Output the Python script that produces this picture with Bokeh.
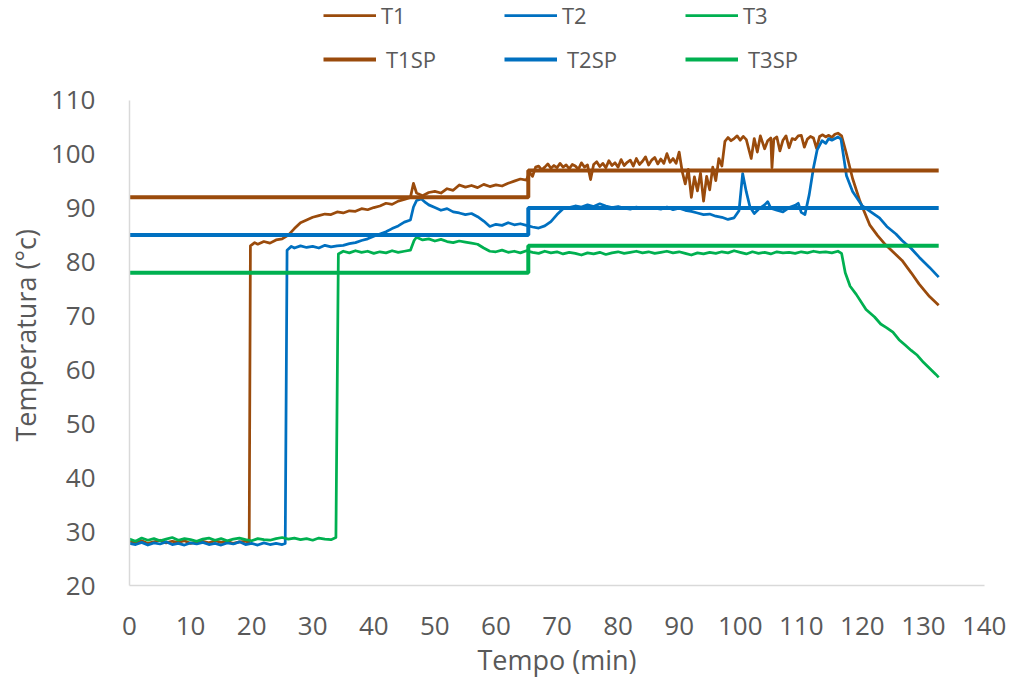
from bokeh.plotting import figure
from bokeh.models import Range1d, FixedTicker, Legend, LegendItem, Title
from bokeh.embed import file_html
from bokeh.resources import INLINE

# ---------------- data ----------------
t1_time = [0, 1, 2, 3, 4, 5, 6, 7, 8, 9, 10, 11, 12, 13, 14, 15, 16, 17, 18, 19, 19.6,
           19.8, 20.5, 21, 22, 23, 24, 25, 26, 27, 28, 29, 30, 31, 32, 33, 34, 35, 36, 37, 38, 39,
           40, 41, 42, 43, 44, 45, 46, 46.5, 47, 48, 49, 50, 51, 52, 53, 54, 55, 56, 57, 58, 59,
           60, 61, 62, 63, 64, 65, 65.5, 66, 66.5, 67, 67.5, 68, 68.5, 69, 69.5, 70, 70.5, 71, 71.5,
           72, 72.5, 73, 73.5, 74, 74.5, 75, 75.5, 76, 76.5, 77, 77.5, 78, 78.5, 79, 79.5, 80, 80.5,
           81, 81.5, 82, 82.5, 83, 83.5, 84, 84.5, 85, 85.5, 86, 86.5, 87, 87.5, 88, 88.5, 89, 89.5,
           90, 90.5, 91, 91.5, 92, 92.5, 93, 93.5, 94, 94.5, 95, 95.5, 96, 96.5, 97, 97.5, 98, 98.5,
           99, 99.5, 100, 100.5, 101, 101.8, 102.3, 102.8, 103.3, 104, 104.5, 105, 105.2, 105.5, 106,
           106.5, 107, 107.5, 108, 108.5, 109, 109.5, 110, 110.5, 111, 111.5, 112, 112.5, 113, 113.5,
           114, 114.5, 115, 115.5, 116, 116.6, 117.3, 118.4, 119.6, 121.2, 122.5, 123.8, 125, 126.5,
           128, 129.3, 131, 132.5]
t1_temp = [28.2, 27.9, 28.3, 27.8, 28.1, 28.4, 27.9, 28.2, 28.0, 28.3, 27.8, 28.1, 28.2, 27.9, 28.3, 28.0, 28.2, 27.8, 28.1, 28.2, 28.0,
           83.0, 83.6, 83.3, 83.8, 83.5, 84.1, 84.3, 85.0, 86.2, 87.3, 87.8, 88.3, 88.6, 88.9, 88.8, 89.3, 89.1, 89.5, 89.4, 89.9, 89.7,
           90.1, 90.4, 90.9, 90.7, 91.3, 91.6, 92.0, 94.6, 92.8, 92.3, 92.9, 93.1, 92.8, 93.6, 93.3, 94.3, 93.9, 94.2, 93.8, 94.4, 94.0,
           94.3, 94.1, 94.6, 95.0, 95.4, 95.2, 96.6, 95.9, 97.6, 97.8, 97.1, 97.6, 98.2, 97.4, 97.9, 97.5, 98.3, 97.6, 98.0,
           97.3, 98.1, 97.8, 97.2, 98.4, 97.6, 98.0, 95.3, 98.1, 98.6, 97.7, 98.3, 97.5, 98.8, 97.9, 98.4, 97.6, 99.0,
           97.9, 98.5, 98.9, 97.8, 99.2, 98.1, 98.7, 99.5, 98.0, 98.9, 99.4, 98.2, 99.1, 98.3, 100.1, 98.5, 99.2, 98.3,
           100.4, 96.8, 94.5, 97.2, 92.0, 95.8, 93.2, 96.5, 91.3, 95.9, 93.4, 97.6, 95.1, 99.2, 97.8, 102.4, 103.1, 102.5,
           102.9, 103.4, 102.6, 103.3, 102.7, 99.2, 102.9, 100.4, 103.4, 101.0, 102.5, 103.0, 97.5, 102.8, 103.2,
           100.6, 102.6, 103.4, 101.2, 102.9, 102.7, 103.4, 103.5, 101.3, 102.8, 103.3, 103.0, 101.1, 103.3, 103.6,
           103.2, 103.5, 103.1, 103.7, 103.9, 103.4, 100.5, 95.5, 91.3, 86.9, 84.9, 83.2, 81.9, 80.3,
           78.0, 75.9, 73.6, 72.0]

t2_time = [0, 1, 2, 3, 4, 5, 6, 7, 8, 9, 10, 11, 12, 13, 14, 15, 16, 17, 18, 19, 20, 21, 22, 23, 24, 25, 25.5,
           25.8, 26.5, 27, 28, 29, 30, 31, 32, 33, 34, 35, 36, 37, 38, 39, 40, 41, 42, 43, 44, 45, 46, 46.5,
           47, 47.8, 48.5, 49, 50, 51, 52, 53, 54, 55, 56, 57, 58, 59, 60, 61, 62, 63, 64, 65, 66, 67, 68,
           69, 70, 71, 72, 73, 74, 75, 76, 77, 78, 79, 80, 81, 82, 83, 84, 85, 86, 87, 88, 89, 90, 91, 92,
           93, 94, 95, 96, 97, 98, 99, 99.8, 100.4, 101, 101.6, 102.3, 103, 104, 104.5, 105, 106, 107, 108,
           109, 109.5, 110, 110.6, 111.3, 112, 112.6, 113.4, 114, 114.5, 115, 116, 116.5, 116.9, 117.4,
           118.4, 120, 121.5, 122.8, 124, 125.5, 126.5, 128, 129.3, 131, 132.5]
t2_temp = [27.8, 27.6, 28.0, 27.5, 27.9, 27.7, 28.1, 27.6, 27.8, 27.5, 27.9, 27.7, 28.0, 27.6, 27.8, 27.5, 27.9, 27.7, 28.1, 27.6, 27.8, 27.5, 27.9, 27.6, 27.8, 27.6, 27.8,
           82.2, 82.9, 82.6, 83.0, 82.7, 82.9, 82.6, 83.1, 82.8, 83.0, 83.1, 83.4, 83.6, 84.0, 84.3, 84.8, 85.2, 85.6, 86.2, 86.7, 87.4, 87.8, 90.2,
           91.4, 91.7, 91.0, 90.6, 90.1, 89.6, 89.9, 89.3, 89.1, 88.8, 89.0, 88.4, 87.6, 86.6, 87.0, 86.8, 87.3, 86.9, 87.1, 86.8, 86.5, 86.3, 86.7,
           87.5, 88.8, 89.9, 90.1, 90.4, 90.2, 90.6, 90.3, 90.8, 90.4, 90.1, 90.3, 90.0, 89.8, 90.2, 89.9, 90.1, 90.0, 89.8, 90.2, 89.7, 90.0, 89.6, 89.4,
           89.1, 88.8, 88.9, 88.5, 88.3, 87.9, 88.2, 89.5, 96.4, 93.0, 90.2, 89.0, 89.8, 90.6, 91.2, 90.0, 89.6, 89.3, 90.1,
           90.5, 90.9, 89.2, 88.8, 92.5, 97.5, 100.8, 102.5, 102.0, 102.9, 102.6, 103.2, 102.8, 99.8, 96.0,
           93.1, 90.4, 89.2, 88.2, 86.6, 85.2, 84.0, 82.5, 80.9, 79.0, 77.2]

t3_time = [0, 1, 2, 3, 4, 5, 6, 7, 8, 9, 10, 11, 12, 13, 14, 15, 16, 17, 18, 19, 20, 21, 22, 23, 24, 25, 26, 27,
           28, 29, 30, 31, 32, 33, 33.8, 34.2, 35, 36, 37, 38, 39, 40, 41, 42, 43, 44, 45, 46, 46.6, 47, 48, 49,
           50, 51, 52, 53, 54, 55, 56, 57, 58, 59, 60, 61, 62, 63, 64, 65, 66, 67, 68, 69, 70, 71, 72, 73, 74,
           75, 76, 77, 78, 79, 80, 81, 82, 83, 84, 85, 86, 87, 88, 89, 90, 91, 92, 93, 94, 95, 96, 97, 98, 99,
           100, 101, 102, 103, 104, 105, 106, 107, 108, 109, 110, 111, 112, 113, 114, 115, 116, 116.6, 117.2,
           118, 119, 120.6, 122, 123, 124, 125, 126, 127, 128, 129, 130, 131, 132, 132.5]
t3_temp = [28.6, 28.2, 28.8, 28.4, 28.7, 28.3, 28.6, 28.9, 28.4, 28.7, 28.5, 28.2, 28.6, 28.8, 28.4, 28.7, 28.3, 28.6, 28.8, 28.5, 28.3, 28.7, 28.5, 28.4, 28.7, 28.9, 28.6, 28.8,
           28.5, 28.7, 28.4, 28.8, 28.6, 28.5, 28.9, 81.5, 82.0, 81.7, 82.1, 81.8, 82.0, 81.6, 81.9, 81.7, 82.1, 81.8, 82.0, 82.2, 84.0, 84.6, 84.1, 84.3,
           83.9, 84.2, 83.8, 83.6, 83.9, 83.7, 83.5, 83.3, 82.6, 82.0, 81.9, 82.2, 81.8, 82.0, 81.7, 82.1, 81.8, 81.6, 82.0, 81.7, 81.9, 81.5, 81.8, 81.6, 81.3,
           81.7, 81.5, 81.8, 81.4, 81.7, 81.9, 81.6, 81.8, 82.0, 81.7, 81.9, 81.6, 81.8, 82.0, 81.7, 81.9, 81.6, 81.3, 81.7, 81.5, 81.8, 81.6, 81.9, 81.7, 82.1,
           81.8, 81.5, 81.9, 81.6, 81.8, 81.5, 81.9, 81.7, 81.8, 81.6, 81.9, 81.7, 82.0, 81.8, 81.9, 81.7, 82.0, 81.6, 78.0,
           75.5, 74.0, 71.2, 69.8, 68.5, 67.8, 67.0, 65.6, 64.6, 63.6, 62.7, 61.4, 60.3, 59.2, 58.6]

sp_time = [0, 65.3, 132.5]
t1_sp = [92, 97, 97]
t2_sp = [85, 90, 90]
t3_sp = [78, 83, 83]

x_ticks = [0, 10, 20, 30, 40, 50, 60, 70, 80, 90, 100, 110, 120, 130, 140]
y_ticks = [20, 30, 40, 50, 60, 70, 80, 90, 100, 110]

BROWN = "#9A4B0C"
BLUE = "#0070C0"
GREEN = "#00B050"
TXT = "#595959"
FONT = "Open Sans"
W_DATA = 2.75
W_SP = 4

# The frame reaches the top of the canvas so the legend (drawn inside the frame) is not clipped;
# the y axis itself is bounded to 20..110.
p = figure(width=1006, height=680, output_backend="svg", toolbar_location=None,
           x_range=Range1d(0, 140), y_range=Range1d(20, 128.51),
           min_border_left=129, min_border_right=22, min_border_top=0, min_border_bottom=88)
p.outline_line_color = None
p.xgrid.visible = False
p.ygrid.visible = False

r1 = p.line(t1_time, t1_temp, line_color=BROWN, line_width=W_DATA, line_join="round")
r2 = p.line(t2_time, t2_temp, line_color=BLUE, line_width=W_DATA, line_join="round")
r3 = p.line(t3_time, t3_temp, line_color=GREEN, line_width=W_DATA, line_join="round")
s1 = p.step(sp_time, t1_sp, mode="after", line_color=BROWN, line_width=W_SP)
s2 = p.step(sp_time, t2_sp, mode="after", line_color=BLUE, line_width=W_SP)
s3 = p.step(sp_time, t3_sp, mode="after", line_color=GREEN, line_width=W_SP)

for ax in (p.xaxis[0], p.yaxis[0]):
    ax.axis_line_color = "#D9D9D9"
    ax.axis_line_width = 1.5
    ax.major_tick_line_color = None
    ax.minor_tick_line_color = None
    ax.major_label_text_font = FONT
    ax.major_label_text_font_size = "26px"
    ax.major_label_text_color = TXT
    ax.axis_label_text_font = FONT
    ax.axis_label_text_font_size = "27px"
    ax.axis_label_text_color = TXT
    ax.axis_label_text_font_style = "normal"

p.xaxis.ticker = FixedTicker(ticks=x_ticks)
p.yaxis.ticker = FixedTicker(ticks=y_ticks)
p.yaxis.bounds = (20, 110)
p.xaxis.axis_label = "Tempo (min)"
p.xaxis.major_label_standoff = 25
p.yaxis.major_label_standoff = 28
p.xaxis.axis_label_standoff = 3

# y-axis title, placed along the bounded part of the axis
ytitle = Title(text="Temperatura (°c)", align="left", offset=144, standoff=8,
               text_font=FONT, text_font_size="27px", text_color=TXT,
               text_font_style="normal")
p.add_layout(ytitle, "left")

common = dict(orientation="horizontal", glyph_width=53, glyph_height=36,
              padding=0, margin=0, spacing=4, border_line_color=None,
              background_fill_alpha=0, label_text_font=FONT,
              label_text_font_size="22px", label_text_color=TXT)
leg1 = Legend(items=[LegendItem(label="T1", renderers=[r1]),
                     LegendItem(label="T2", renderers=[r2]),
                     LegendItem(label="T3", renderers=[r3])],
              location=(194, 552), label_standoff=5, label_width=119, **common)
leg2 = Legend(items=[LegendItem(label="T1SP", renderers=[s1]),
                     LegendItem(label="T2SP", renderers=[s2]),
                     LegendItem(label="T3SP", renderers=[s3])],
              location=(194, 508), label_standoff=10, label_width=114, **common)
p.add_layout(leg1)
p.add_layout(leg2)

open("out.html", "w").write(file_html(p, INLINE))
